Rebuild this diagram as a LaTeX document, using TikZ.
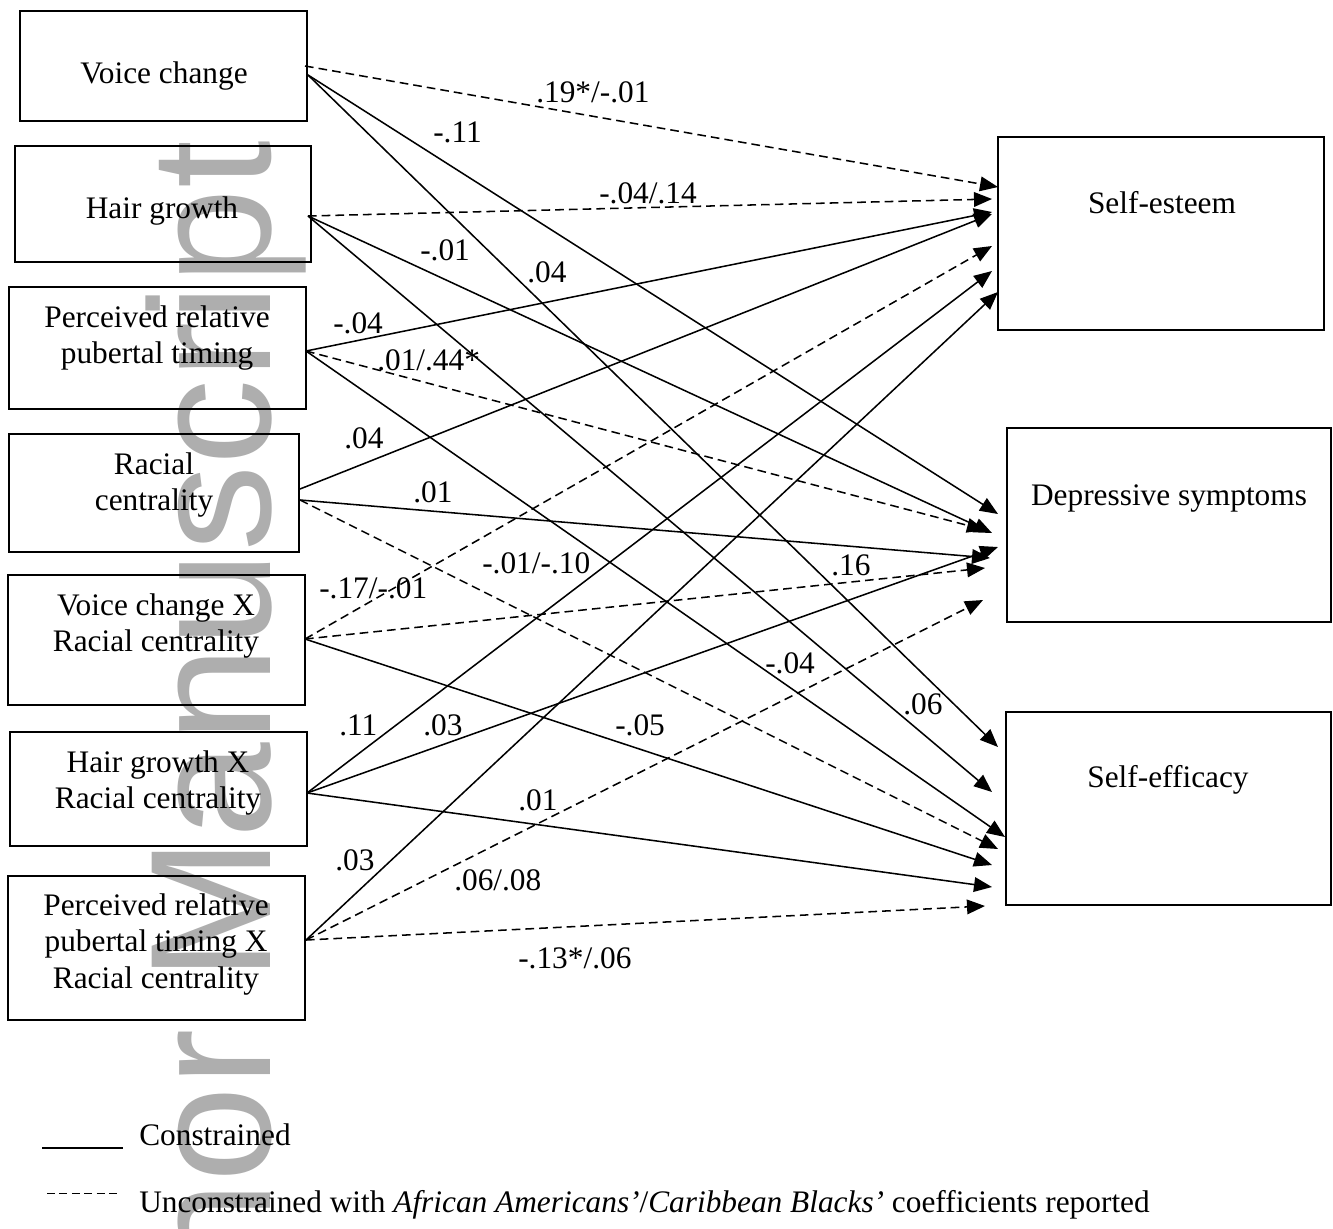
\documentclass[tikz,border=0pt]{standalone}
\usepackage{fontspec}
\setmainfont{Liberation Serif}
\newfontfamily\wmfont{Liberation Sans}
\usetikzlibrary{arrows.meta,fit}
\definecolor{wmgray}{RGB}{174,174,174}
\begin{document}
\begin{tikzpicture}[x=0.75pt,y=-0.75pt,
  txt/.style={font=\fontsize{23.5}{27.4}\selectfont, inner sep=0pt},
  lab/.style={txt, anchor=base west},
  box/.style={draw, line width=1.4pt, inner sep=0pt},
  boxtext/.style={txt, align=center, anchor=north},
  conn/.style={line width=1.15pt, -{Triangle[length=13.5pt,width=11pt]}},
  dconn/.style={conn, dash pattern=on 6.5pt off 3.8pt},
]
\useasboundingbox (0,0) rectangle (1333,1228);
\fill[white] (0,0) rectangle (1333,1228);
\clip (0,0) rectangle (1333,1228);

% watermark
\node[font=\wmfont\fontsize{129}{130}\selectfont, text=wmgray, rotate=90, anchor=base east, inner sep=0pt] (wm) at (270,140) {Author Manuscript};

% boxes
\node[box, fit={(20,11) (307,121)}] (vc) {};
\node[box, fit={(15,146) (311,262)}] (hg) {};
\node[box, fit={(9,287) (306,409)}] (pr) {};
\node[box, fit={(9,434) (299,552)}] (rc) {};
\node[box, fit={(8,575) (305,705)}] (vx) {};
\node[box, fit={(10,732) (307,846)}] (hx) {};
\node[box, fit={(8,876) (305,1020)}] (px) {};
\node[box, fit={(998,137) (1324,330)}] (se) {};
\node[box, fit={(1007,428) (1331,622)}] (ds) {};
\node[box, fit={(1006,712) (1331,905)}] (sf) {};

% box texts
\node[boxtext] (vct) at (164,57.4) {\strut Voice change};
\node[boxtext] (hgt) at (162,192.4) {\strut Hair growth};
\node[boxtext] (prt) at (157,301.4) {\strut Perceived relative\\\strut pubertal timing};
\node[boxtext] (rct) at (154,448.4) {\strut Racial\\\strut centrality};
\node[boxtext] (vxt) at (156,589.4) {\strut Voice change X\\\strut Racial centrality};
\node[boxtext] (hxt) at (158,746.4) {\strut Hair growth X\\\strut Racial centrality};
\node[boxtext] (pxt) at (156,889.4) {\strut Perceived relative\\\strut pubertal timing X\\\strut Racial centrality};
\node[boxtext] (set) at (1162,187.4) {\strut Self-esteem};
\node[boxtext] (dst) at (1169,479.4) {\strut Depressive symptoms};
\node[boxtext] (sft) at (1168,761.4) {\strut Self-efficacy};

% start points
\coordinate (vcA) at (305,66);
\coordinate (vcB) at (308,75);
\coordinate (hgS) at (308,216);
\coordinate (prS) at (306,351);
\coordinate (rcA) at (300,489);
\coordinate (rcB) at (300,500);
\coordinate (vxS) at (305,639);
\coordinate (hxS) at (307,793);
\coordinate (pxS) at (306,940);

% arrow tips
\coordinate (se1) at (998,187);
\coordinate (se2) at (992,199);
\coordinate (se3) at (992,212);
\coordinate (se4) at (992,214);
\coordinate (se5) at (992,246);
\coordinate (se6) at (992,271);
\coordinate (se7) at (998,292);
\coordinate (ds1) at (998,514);
\coordinate (ds2) at (992,533);
\coordinate (ds3) at (985,530);
\coordinate (ds4) at (990,558);
\coordinate (ds5) at (985,568);
\coordinate (ds6) at (998,547);
\coordinate (ds7) at (983,600);
\coordinate (sf1) at (998,747);
\coordinate (sf2) at (992,792);
\coordinate (sf3) at (1005,837);
\coordinate (sf4) at (998,849);
\coordinate (sf5) at (992,865);
\coordinate (sf6) at (992,887);
\coordinate (sf7) at (985,906);

% connectors to Self-esteem
\draw[dconn] (vcA) -- (se1);
\draw[dconn] (hgS) -- (se2);
\draw[conn] (prS) -- (se3);
\draw[conn] (rcA) -- (se4);
\draw[dconn] (vxS) -- (se5);
\draw[conn] (hxS) -- (se6);
\draw[conn] (pxS) -- (se7);
% connectors to Depressive symptoms
\draw[conn] (vcB) -- (ds1);
\draw[conn] (hgS) -- (ds2);
\draw[dconn] (prS) -- (ds3);
\draw[conn] (rcB) -- (ds4);
\draw[dconn] (vxS) -- (ds5);
\draw[conn] (hxS) -- (ds6);
\draw[dconn] (pxS) -- (ds7);
% connectors to Self-efficacy
\draw[conn] (vcB) -- (sf1);
\draw[conn] (hgS) -- (sf2);
\draw[conn] (prS) -- (sf3);
\draw[dconn] (rcB) -- (sf4);
\draw[conn] (vxS) -- (sf5);
\draw[conn] (hxS) -- (sf6);
\draw[dconn] (pxS) -- (sf7);

% coefficient labels
\node[lab] (l1) at (536,102) {.19*/-.01};
\node[lab] (l2) at (433,142) {-.11};
\node[lab] (l3) at (599,203) {-.04/.14};
\node[lab] (l4) at (420,260) {-.01};
\node[lab] (l5) at (527,282) {.04};
\node[lab] (l6) at (333,333) {-.04};
\node[lab] (l7) at (377,370) {.01/.44*};
\node[lab] (l8) at (344,448) {.04};
\node[lab] (l9) at (413,502) {.01};
\node[lab] (l10) at (482,573) {-.01/-.10};
\node[lab] (l11) at (319,598) {-.17/-.01};
\node[lab] (l12) at (339,735) {.11};
\node[lab] (l13) at (423,735) {.03};
\node[lab] (l14) at (615,735) {-.05};
\node[lab] (l15) at (518,810) {.01};
\node[lab] (l16) at (335,870) {.03};
\node[lab] (l17) at (454,890) {.06/.08};
\node[lab] (l18) at (518,968) {-.13*/.06};
\node[lab] (l19) at (831,575) {.16};
\node[lab] (l20) at (765,673) {-.04};
\node[lab] (l21) at (903,714) {.06};

% legend
\coordinate (lc1) at (42,1148);
\coordinate (lc2) at (123,1148);
\draw[line width=1pt] (lc1) -- (lc2);
\node[lab] (lcon) at (139,1145) {Constrained};
\coordinate (ld1) at (47,1193);
\coordinate (ld2) at (121,1193);
\draw[line width=0.7pt, dash pattern=on 6pt off 3.3pt] (ld1) -- (ld2);
\node[lab] (lunc) at (139,1212) {Unconstrained with \textit{African Americans’}/\textit{Caribbean Blacks’} coefficients reported};
\end{tikzpicture}
\end{document}
